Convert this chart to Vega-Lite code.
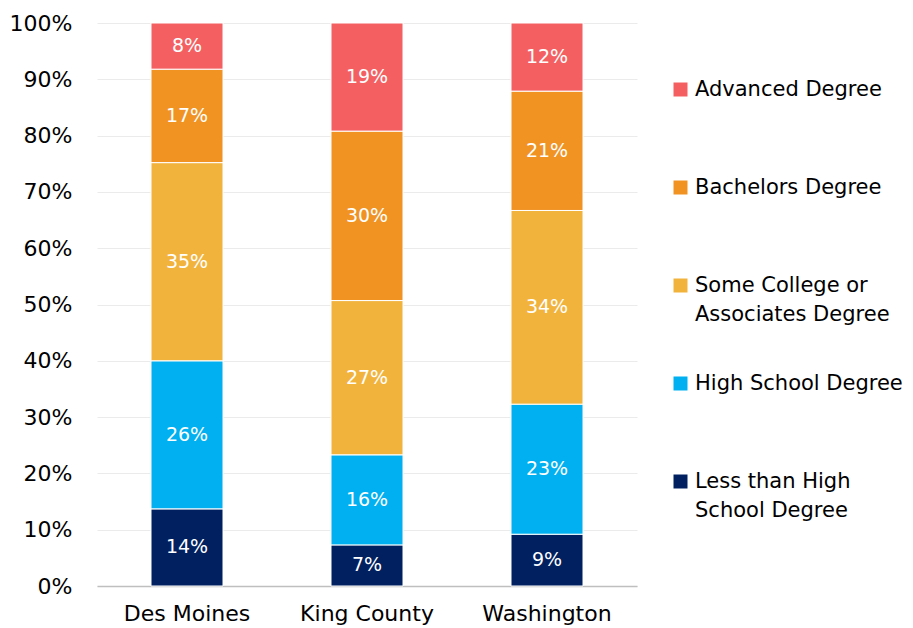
{
  "$schema": "https://vega.github.io/schema/vega-lite/v6.json",
  "autosize": {"type": "none"},
  "width": 540,
  "height": 563,
  "padding": {"left": 97, "top": 23, "right": 276, "bottom": 42},
  "background": "white",
  "config": {
    "font": "DejaVu Sans",
    "view": {"stroke": null},
    "style": {"guide-label": {"lineHeight": 29}}
  },
  "data": {
    "values": [
      {"place": "Des Moines", "level": "Less than High|School Degree", "ord": 1, "value": 0.137},
      {"place": "Des Moines", "level": "High School Degree", "ord": 2, "value": 0.263},
      {"place": "Des Moines", "level": "Some College or|Associates Degree", "ord": 3, "value": 0.352},
      {"place": "Des Moines", "level": "Bachelors Degree", "ord": 4, "value": 0.166},
      {"place": "Des Moines", "level": "Advanced Degree", "ord": 5, "value": 0.082},
      {"place": "King County", "level": "Less than High|School Degree", "ord": 1, "value": 0.073},
      {"place": "King County", "level": "High School Degree", "ord": 2, "value": 0.160},
      {"place": "King County", "level": "Some College or|Associates Degree", "ord": 3, "value": 0.274},
      {"place": "King County", "level": "Bachelors Degree", "ord": 4, "value": 0.301},
      {"place": "King County", "level": "Advanced Degree", "ord": 5, "value": 0.192},
      {"place": "Washington", "level": "Less than High|School Degree", "ord": 1, "value": 0.092},
      {"place": "Washington", "level": "High School Degree", "ord": 2, "value": 0.231},
      {"place": "Washington", "level": "Some College or|Associates Degree", "ord": 3, "value": 0.344},
      {"place": "Washington", "level": "Bachelors Degree", "ord": 4, "value": 0.212},
      {"place": "Washington", "level": "Advanced Degree", "ord": 5, "value": 0.121}
    ]
  },
  "transform": [
    {"stack": "value", "groupby": ["place"], "sort": [{"field": "ord", "order": "ascending"}], "as": ["y0", "y1"]},
    {"calculate": "(datum.y0 + datum.y1) / 2", "as": "ymid"}
  ],
  "encoding": {
    "x": {
      "field": "place",
      "type": "nominal",
      "title": null,
      "scale": {"paddingInner": 0.6, "paddingOuter": 0.3},
      "axis": {
        "labelAngle": 0,
        "labelFontSize": 22,
        "labelColor": "#000000",
        "labelPadding": 17,
        "ticks": false,
        "domainColor": "#BFBFBF",
        "domainWidth": 1.5
      }
    }
  },
  "layer": [
    {
      "mark": {"type": "bar", "stroke": "white", "strokeWidth": 1},
      "encoding": {
        "y": {
          "field": "y0",
          "type": "quantitative",
          "title": null,
          "scale": {"domain": [0, 1], "nice": false},
          "axis": {
            "values": [0, 0.1, 0.2, 0.3, 0.4, 0.5, 0.6, 0.7, 0.8, 0.9, 1],
            "format": ".0%",
            "labelFontSize": 22,
            "labelColor": "#000000",
            "labelPadding": 25,
            "ticks": false,
            "domain": false,
            "gridColor": "#EBEBEB",
            "gridWidth": 1.2
          }
        },
        "y2": {"field": "y1"},
        "color": {
          "field": "level",
          "type": "nominal",
          "scale": {
            "domain": ["Advanced Degree", "Bachelors Degree", "Some College or|Associates Degree", "High School Degree", "Less than High|School Degree"],
            "range": ["#F45F62", "#F09323", "#F2B33D", "#00B0F0", "#002060"]
          },
          "legend": {
            "title": null,
            "orient": "none",
            "legendX": 573,
            "legendY": 56,
            "symbolType": "square",
            "symbolSize": 196,
            "symbolStrokeWidth": 0,
            "labelFontSize": 21,
            "labelColor": "#000000",
            "labelOffset": 4,
            "labelLimit": 300,
            "gridAlign": "all",
            "rowPadding": 47,
            "labelExpr": "split(datum.label, '|')"
          }
        }
      }
    },
    {
      "mark": {"type": "text", "color": "white", "fontSize": 19, "baseline": "middle"},
      "encoding": {
        "y": {"field": "ymid", "type": "quantitative"},
        "text": {"field": "value", "type": "quantitative", "format": ".0%"}
      }
    }
  ]
}
